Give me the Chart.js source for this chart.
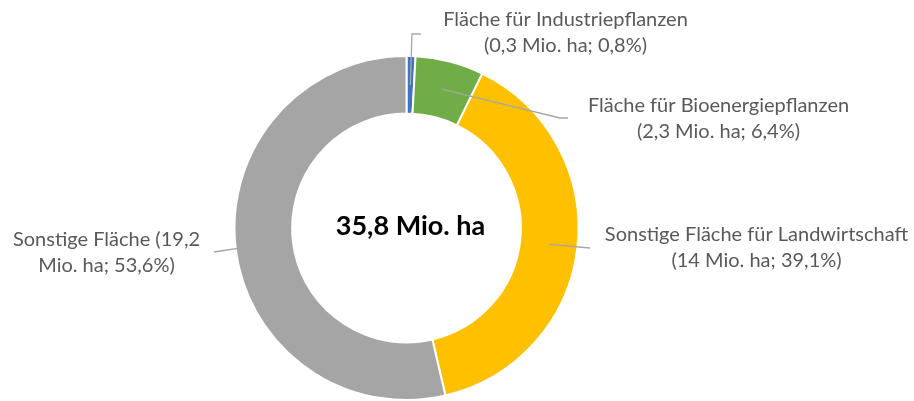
<!DOCTYPE html>
<html>
<head>
<meta charset="utf-8">
<script src="https://cdn.jsdelivr.net/npm/chart.js@4.4.0/dist/chart.umd.min.js"></script>
<style>
  html, body { margin: 0; padding: 0; background: #fff; }
  #wrap { width: 914px; height: 401px; }
</style>
</head>
<body>
<div id="wrap"><canvas id="flaeche" width="914" height="401"></canvas></div>
<script>
// Flächennutzung Deutschland (Mio. ha)
const categories = ['Fläche für Industriepflanzen', 'Fläche für Bioenergiepflanzen', 'Sonstige Fläche für Landwirtschaft', 'Sonstige Fläche'];
const values = [0.3, 2.3, 14, 19.2];
const valueLabels = ['0,3', '2,3', '14', '19,2'];
const percentLabels = ['0,8%', '6,4%', '39,1%', '53,6%'];
const totalLabel = '35,8 Mio. ha';

const colors = ['#4472c4', '#70ad47', '#ffc000', '#a5a5a5'];

// label text lines (as wrapped in the original)
const labelLines = [
    [categories[0], '(' + valueLabels[0] + ' Mio. ha; ' + percentLabels[0] + ')'],
    [categories[1], '(' + valueLabels[1] + ' Mio. ha; ' + percentLabels[1] + ')'],
    [categories[2], '(' + valueLabels[2] + ' Mio. ha; ' + percentLabels[2] + ')'],
    [categories[3] + ' (' + valueLabels[3], 'Mio. ha; ' + percentLabels[3] + ')']
];

// label placement, relative to the doughnut centre
const labelPos = [[159, -208], [312, -122], [350, 7], [-300, 12]];
// leader line points after the slice anchor, relative to the centre
const leaderPts = [
    [[5.5, -194], [14.5, -194]],
    [[153.5, -110], [161.5, -110]],
    [[183.5, 20]],
    [[-192.5, 24]]
];

const labelFont = '20px Lato';
const lineGap = 26;

const labelPlugin = {
    id: 'labelPlugin',
    afterDraw(chart) {
        const ctx = chart.ctx;
        const meta = chart.getDatasetMeta(0);
        const arc0 = meta.data[0];
        const cx = arc0.x, cy = arc0.y;
        ctx.save();
        // leader lines
        ctx.strokeStyle = '#a6a6a6';
        ctx.lineWidth = 1.3;
        meta.data.forEach(function (arc, i) {
            const p = arc.tooltipPosition();
            ctx.beginPath();
            ctx.moveTo(p.x, p.y);
            leaderPts[i].forEach(function (q) {
                ctx.lineTo(cx + q[0], cy + q[1]);
            });
            ctx.stroke();
        });
        // labels
        ctx.fillStyle = '#595959';
        ctx.font = labelFont;
        ctx.textAlign = 'center';
        ctx.textBaseline = 'middle';
        labelLines.forEach(function (lines, i) {
            lines.forEach(function (t, j) {
                ctx.fillText(t, cx + labelPos[i][0], cy + labelPos[i][1] + j * lineGap);
            });
        });
        // total in the middle
        ctx.fillStyle = '#000';
        ctx.font = 'bold 27px Lato';
        ctx.fillText(totalLabel, cx + 4, cy - 2);
        ctx.restore();
    }
};

new Chart(document.getElementById('flaeche'), {
    type: 'doughnut',
    data: {
        labels: categories,
        datasets: [{
            data: values,
            backgroundColor: colors,
            borderColor: '#ffffff',
            borderWidth: 2
        }]
    },
    options: {
        responsive: false,
        animation: false,
        cutout: '66.5%',
        layout: {
            padding: { left: 233, right: 334, top: 55, bottom: 0 }
        },
        plugins: {
            legend: { display: false },
            tooltip: { enabled: false }
        }
    },
    plugins: [labelPlugin]
});
</script>
</body>
</html>
